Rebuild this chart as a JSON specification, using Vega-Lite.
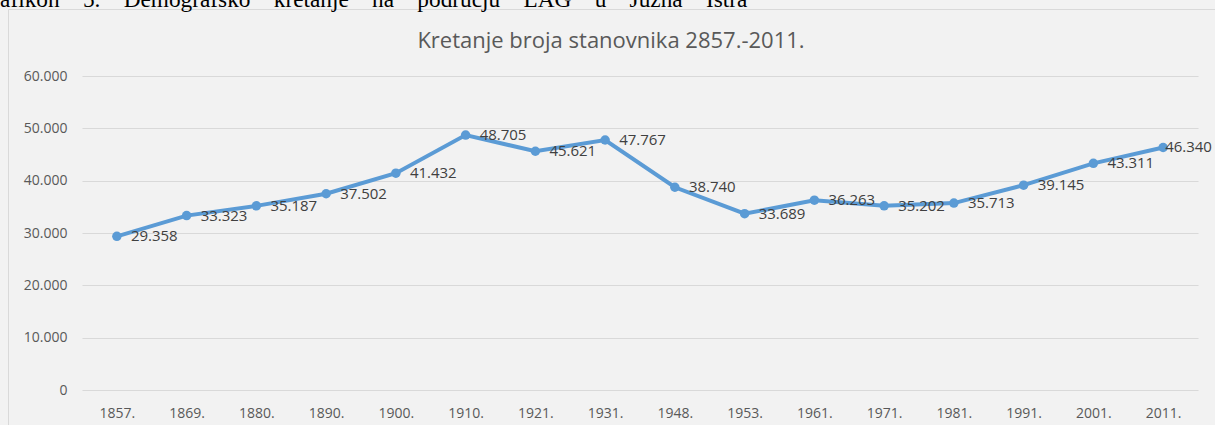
{
  "$schema": "https://vega.github.io/schema/vega-lite/v6.json",
  "width": 1217,
  "height": 426,
  "autosize": {"type": "none"},
  "padding": {"left": 8, "top": 9, "right": -10, "bottom": -10},
  "background": "#f2f2f2",
  "config": {
    "locale": {"number": {"decimal": ",", "thousands": ".", "grouping": [3], "currency": ["", ""]}},
    "view": {"stroke": "#d9d9d9", "fill": "#f2f2f2", "strokeWidth": 1},
    "font": "Open Sans"
  },
  "data": {
    "values": [
      {"year": "1857.", "pop": 29358},
      {"year": "1869.", "pop": 33323},
      {"year": "1880.", "pop": 35187},
      {"year": "1890.", "pop": 37502},
      {"year": "1900.", "pop": 41432},
      {"year": "1910.", "pop": 48705},
      {"year": "1921.", "pop": 45621},
      {"year": "1931.", "pop": 47767},
      {"year": "1948.", "pop": 38740},
      {"year": "1953.", "pop": 33689},
      {"year": "1961.", "pop": 36263},
      {"year": "1971.", "pop": 35202},
      {"year": "1981.", "pop": 35713},
      {"year": "1991.", "pop": 39145},
      {"year": "2001.", "pop": 43311},
      {"year": "2011.", "pop": 46340}
    ]
  },
  "encoding": {
    "y": {
      "field": "pop",
      "type": "quantitative",
      "scale": {"domain": [0, 60000], "range": [381, 67], "nice": false, "zero": true},
      "axis": {
        "values": [0, 10000, 20000, 30000, 40000, 50000, 60000],
        "format": ",d",
        "title": "Grafikon\u00a0\u00a0\u00a0\u00a05.\u00a0\u00a0\u00a0\u00a0Demografsko\u00a0\u00a0\u00a0\u00a0kretanje\u00a0\u00a0\u00a0\u00a0na\u00a0\u00a0\u00a0\u00a0području\u00a0\u00a0\u00a0\u00a0LAG\u00a0\u00a0\u00a0\u00a0u\u00a0\u00a0\u00a0\u00a0Južna\u00a0\u00a0\u00a0\u00a0Istra",
        "titleFont": "Liberation Serif",
        "titleFontSize": 23.3,
        "titleFontWeight": "normal",
        "titleColor": "#000000",
        "titleAngle": 0,
        "titleAlign": "left",
        "titleBaseline": "alphabetic",
        "titleX": -33,
        "titleY": -3,
        "domain": false,
        "ticks": false,
        "tickSize": 0,
        "labelPadding": -59,
        "labelFont": "Open Sans",
        "labelFontSize": 14,
        "labelColor": "#595959",
        "grid": true,
        "gridColor": "#d9d9d9",
        "gridWidth": 1
      }
    }
  },
  "layer": [
    {
      "mark": {"type": "line", "color": "#5b9bd5", "strokeWidth": 4},
      "encoding": {
        "x": {
          "field": "year",
          "type": "ordinal",
          "sort": null,
          "scale": {"type": "point", "range": [74, 1190], "padding": 0.5},
          "axis": {
            "title": null,
            "domain": false,
            "ticks": false,
            "tickSize": 0,
            "labelPadding": -29,
            "labelFont": "Open Sans",
            "labelFontSize": 14,
            "labelColor": "#595959",
            "labelAngle": 0,
            "grid": false
          }
        }
      }
    },
    {
      "mark": {"type": "point", "filled": true, "color": "#5b9bd5", "size": 90, "opacity": 1},
      "encoding": {
        "x": {
          "field": "year",
          "type": "ordinal",
          "sort": null,
          "scale": {"type": "point", "range": [74, 1190], "padding": 0.5},
          "axis": {
            "orient": "top",
            "labels": false,
            "ticks": false,
            "domain": false,
            "grid": false,
            "title": "Kretanje broja stanovnika 2857.-2011.",
            "titleFont": "Open Sans",
            "titleFontSize": 22,
            "titleFontWeight": "normal",
            "titleColor": "#595959",
            "titleX": 602.5,
            "titleY": 38,
            "titleAlign": "center",
            "titleBaseline": "alphabetic"
          }
        }
      }
    },
    {
      "transform": [{"filter": "datum.year != '2011.'"}],
      "mark": {"type": "text", "align": "left", "baseline": "middle", "dx": 14, "fontSize": 15, "color": "#404040", "font": "Open Sans"},
      "encoding": {
        "x": {"field": "year", "type": "ordinal", "sort": null, "scale": {"type": "point", "range": [74, 1190], "padding": 0.5}, "axis": null},
        "text": {"field": "pop", "type": "quantitative", "format": ",d"}
      }
    },
    {
      "transform": [{"filter": "datum.year == '2011.'"}],
      "mark": {"type": "text", "align": "left", "baseline": "middle", "dx": 2, "fontSize": 15, "color": "#404040", "font": "Open Sans"},
      "encoding": {
        "x": {"field": "year", "type": "ordinal", "sort": null, "scale": {"type": "point", "range": [74, 1190], "padding": 0.5}, "axis": null},
        "text": {"field": "pop", "type": "quantitative", "format": ",d"}
      }
    }
  ],
  "resolve": {"axis": {"x": "independent"}}
}
